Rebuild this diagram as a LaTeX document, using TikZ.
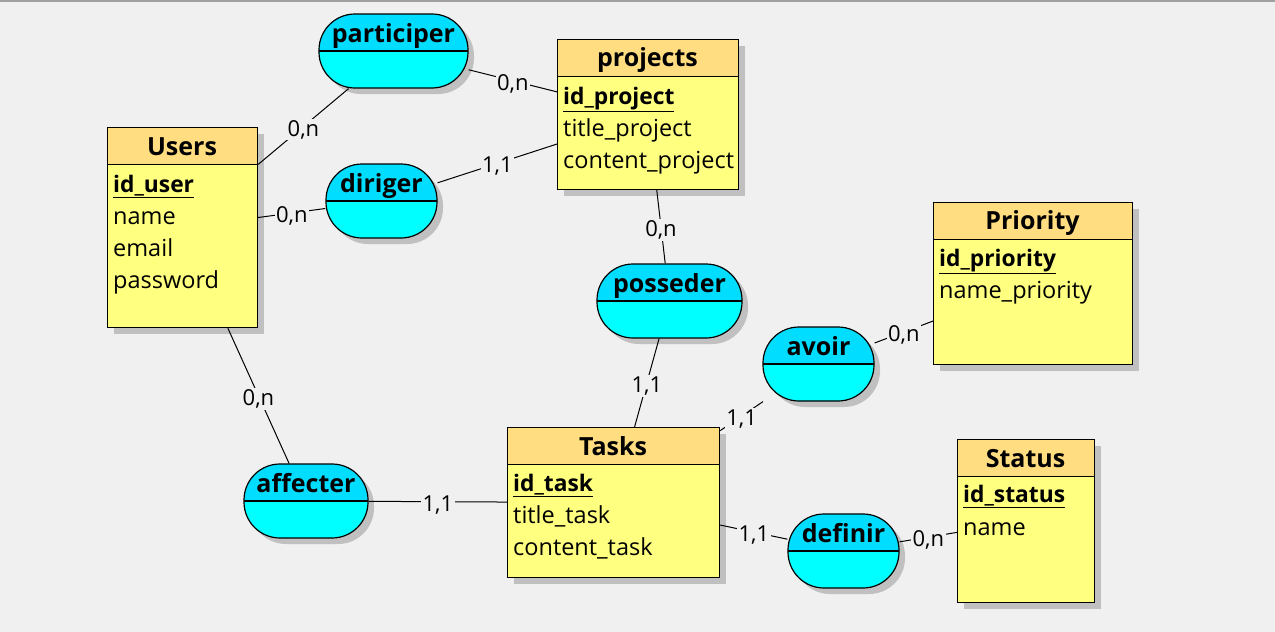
\documentclass[tikz,border=0pt]{standalone}
\usepackage{fontspec}
\setmainfont{Open Sans}
\usetikzlibrary{shadows}
\definecolor{erBg}{RGB}{240, 240, 240}
\definecolor{erEdge}{RGB}{160, 160, 160}
\definecolor{erHead}{RGB}{255, 221, 128}
\definecolor{erBody}{RGB}{255, 255, 128}
\definecolor{erTop}{RGB}{0, 221, 255}
\definecolor{erBottom}{RGB}{0, 255, 255}
\definecolor{erShadow}{RGB}{192, 192, 192}
\tikzset{
    base/.style={
        inner sep=0pt,
        font=\fontsize{23.5}{27}\selectfont
    },
    entity/.style={
        rectangle,
        draw=black,
        line width=1.2pt,
        fill=erBody,
        anchor=north west,
        inner sep=0pt,
        drop shadow={fill=erShadow, opacity=1, shadow xshift=6pt, shadow yshift=-6pt},
        path picture={
            \fill[erHead, sharp corners] (path picture bounding box.north west) rectangle ([yshift=-37pt]path picture bounding box.north east);
            \draw[line width=1.2pt] ([yshift=-37pt]path picture bounding box.north west) -- ([yshift=-37pt]path picture bounding box.north east);
        }
    },
    relation/.style={
        rectangle,
        rounded corners=36pt,
        draw=black,
        line width=1.2pt,
        fill=erBottom,
        minimum height=74pt,
        inner sep=0pt,
        drop shadow={fill=erShadow, opacity=1, shadow xshift=6pt, shadow yshift=-6pt},
        path picture={
            \fill[erTop, sharp corners] (path picture bounding box.north west) rectangle (path picture bounding box.east);
            \draw[line width=1.2pt, sharp corners] (path picture bounding box.west) -- (path picture bounding box.east);
        }
    },
    title/.style={
        base,
        font=\bfseries\fontsize{25}{29}\selectfont,
        anchor=base
    },
    key/.style={
        base,
        font=\bfseries\fontsize{22.8}{26}\selectfont,
        anchor=base west
    },
    attr/.style={
        base,
        anchor=base west
    },
    card/.style={
        font=\fontsize{22}{25}\selectfont,
        fill=erBg,
        inner sep=1.5pt,
        yshift=-3pt
    },
    link/.style={
        line width=1pt
    }
}
\begin{document}
\begin{tikzpicture}[x=1pt, y=-1pt]
  % Canvas
  \useasboundingbox (0,0) rectangle (1275,632);
  \fill[erBg] (0,0) rectangle (1275,632);
  \fill[erEdge] (0,0) rectangle (1275,2);

  % Entities
  \node[entity, minimum width=150pt, minimum height=200pt] (users) at (107,127) {};
  \node[title] (usersT) at (182,155) {Users};
  \node[key] (usersK) at (113,192) {\underline{id\_user}};
  \node[attr] (usersA) at (113,224) {name};
  \node[attr] (usersB) at (113,256) {email};
  \node[attr] (usersC) at (113,288) {password};

  \node[entity, minimum width=181pt, minimum height=150pt] (projects) at (557,39) {};
  \node[title] (projectsT) at (647.5,66) {projects};
  \node[key] (projectsK) at (563,104) {\underline{id\_project}};
  \node[attr] (projectsA) at (563,136) {title\_project};
  \node[attr] (projectsB) at (563,168) {content\_project};

  \node[entity, minimum width=199pt, minimum height=162pt] (priority) at (933,202) {};
  \node[title] (priorityT) at (1032.5,229) {Priority};
  \node[key] (priorityK) at (939,266) {\underline{id\_priority}};
  \node[attr] (priorityA) at (939,298) {name\_priority};

  \node[entity, minimum width=212pt, minimum height=150pt] (tasks) at (507,427) {};
  \node[title] (tasksT) at (613,455) {Tasks};
  \node[key] (tasksK) at (513,491) {\underline{id\_task}};
  \node[attr] (tasksA) at (513,523) {title\_task};
  \node[attr] (tasksB) at (513,555) {content\_task};

  \node[entity, minimum width=137pt, minimum height=163pt] (status) at (957,439) {};
  \node[title] (statusT) at (1025.5,467) {Status};
  \node[key] (statusK) at (963,502) {\underline{id\_status}};
  \node[attr] (statusA) at (963,535) {name};

  % Associations
  \node[relation, minimum width=149pt] (participer) at (393.5,51) {};
  \node[title] (participerT) at (393.5,42) {participer};
  \node[relation, minimum width=111pt] (diriger) at (381.5,201) {};
  \node[title] (dirigerT) at (381.5,192) {diriger};
  \node[relation, minimum width=145pt] (posseder) at (669.5,301) {};
  \node[title] (possederT) at (669.5,292) {posseder};
  \node[relation, minimum width=111pt] (avoir) at (818.5,364) {};
  \node[title] (avoirT) at (818.5,355) {avoir};
  \node[relation, minimum width=124pt] (affecter) at (306,501) {};
  \node[title] (affecterT) at (306,492) {affecter};
  \node[relation, minimum width=111pt] (definir) at (843.5,551) {};
  \node[title] (definirT) at (843.5,542) {definir};

  % Links
  \draw[link] (users) -- node[card] (c1) {0,n} (participer);
  \draw[link] (participer) -- node[card] (c2) {0,n} (projects);
  \draw[link] (users) -- node[card] (c3) {0,n} (diriger);
  \draw[link] (diriger) -- node[card] (c4) {1,1} (projects);
  \draw[link] (projects) -- node[card] (c5) {0,n} (posseder);
  \draw[link] (posseder) -- node[card] (c6) {1,1} (tasks);
  \draw[link] (tasks) -- node[card] (c7) {1,1} (avoir);
  \draw[link] (avoir) -- node[card] (c8) {0,n} (priority);
  \draw[link] (users) -- node[card] (c9) {0,n} (affecter);
  \draw[link] (affecter) -- node[card] (c10) {1,1} (tasks);
  \draw[link] (tasks) -- node[card] (c11) {1,1} (definir);
  \draw[link] (definir) -- node[card] (c12) {0,n} (status);
\end{tikzpicture}
\end{document}
